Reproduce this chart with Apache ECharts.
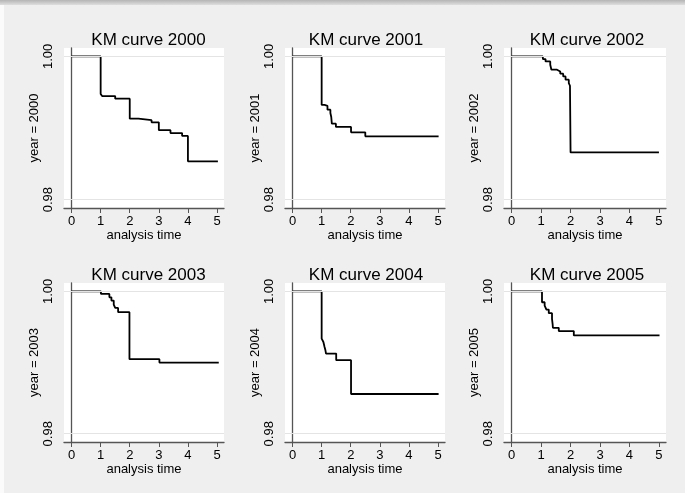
<!DOCTYPE html>
<html>
<head>
<meta charset="utf-8">
<script src="https://cdn.jsdelivr.net/npm/echarts@6/dist/echarts.min.js"></script>
<style>
  body { margin: 0; background: #efefef; }
  #main { position: absolute; left: 0; top: 0; width: 685px; height: 493px; }
  #topbar { position: absolute; left: 0; top: 0; width: 685px; height: 5px; background: linear-gradient(#b4b4b4, #dedede); z-index: 2; }
  #leftbar { position: absolute; left: 0; top: 5px; width: 4px; height: 488px; background: #fbfbfb; z-index: 2; }
</style>
</head>
<body>
<div id="main"></div>
<div id="topbar"></div>
<div id="leftbar"></div>
<script>
// KM curve data, one pair of arrays per year (time, survival)
const years = [2000, 2001, 2002, 2003, 2004, 2005]

const time2000 = [0, 1, 1.05, 1.5, 2, 2.3, 2.75, 3, 3.4, 3.8, 4, 5.03]
const surv2000 = [1, 0.99475, 0.99446, 0.9941, 0.9913, 0.9911, 0.9908, 0.9897, 0.9893, 0.9889, 0.98535, 0.98535]

const time2001 = [0, 1, 1.1, 1.2, 1.3, 1.33, 1.35, 1.49, 2.01, 2.5, 5.02]
const surv2001 = [1, 0.99322, 0.9931, 0.99256, 0.9921, 0.99154, 0.99061, 0.99015, 0.9894, 0.98884, 0.98884]

const time2002 = [0, 1.06, 1.15, 1.31, 1.35, 1.54, 1.65, 1.75, 1.83, 1.94, 1.98, 2.0, 5.0]
const surv2002 = [1, 0.99962, 0.9993, 0.99884, 0.99814, 0.9979, 0.99758, 0.9972, 0.99675, 0.99628, 0.9959, 0.9866, 0.9866]

const time2003 = [0, 1.01, 1.3, 1.37, 1.45, 1.5, 1.6, 1.99, 3.02, 5.06]
const surv2003 = [1, 0.99963, 0.99916, 0.9987, 0.99814, 0.99767, 0.99707, 0.99047, 0.99, 0.99]

const time2004 = [0, 1.0, 1.06, 1.1, 1.13, 1.15, 1.5, 2.01, 5.02]
const surv2004 = [1, 0.99335, 0.99288, 0.99219, 0.99172, 0.99126, 0.99033, 0.98558, 0.98558]

const time2005 = [0, 1.03, 1.12, 1.18, 1.26, 1.37, 1.39, 1.4, 1.6, 2.11, 5.02]
const surv2005 = [1, 0.99847, 0.998, 0.99744, 0.99693, 0.99614, 0.99544, 0.99488, 0.99442, 0.99381, 0.99381]

const xTicks = [0, 1, 2, 3, 4, 5]
const yTicks = [0.98, 1.00]

const times = [time2000, time2001, time2002, time2003, time2004, time2005]
const survs = [surv2000, surv2001, surv2002, surv2003, surv2004, surv2005]

// panel placement (pixels)
const colLeft = [64, 285, 504]
const colWidth = [160, 160, 162]
const rowTop = [48, 283]
const rowHeight = [160, 159]
const titleCenter = [143.5, 361, 582]
const titleTop = [27, 262]

const font = 'Liberation Sans, Arial, sans-serif'
const axisColor = '#555555'

let grids = [], xAxes = [], yAxes = [], series = [], titles = []

years.forEach((yr, i) => {
  const col = i % 3, row = Math.floor(i / 3)
  grids.push({
    left: colLeft[col], top: rowTop[row], width: colWidth[col], height: rowHeight[row],
    show: true, backgroundColor: '#ffffff', borderWidth: 0
  })
  titles.push({
    text: 'KM curve ' + yr,
    left: titleCenter[col], top: titleTop[row], textAlign: 'center',
    textStyle: {fontFamily: font, fontSize: 17, fontWeight: 'normal', color: '#000'}
  })
  xAxes.push({
    gridIndex: i, type: 'value', min: -0.26, max: 5.24,
    name: 'analysis time', nameLocation: 'middle', nameGap: 15,
    nameTextStyle: {fontFamily: font, fontSize: 13, color: '#000'},
    axisLine: {show: true, onZero: false, lineStyle: {color: axisColor, width: 1.3}},
    axisTick: {show: true, length: 5, customValues: xTicks, lineStyle: {color: axisColor}},
    axisLabel: {customValues: xTicks, margin: 7, fontFamily: font, fontSize: 13, color: '#000'},
    splitLine: {show: false}
  })
  yAxes.push({
    gridIndex: i, type: 'value', min: 0.97884, max: 1.00117,
    name: 'year = ' + yr, nameLocation: 'middle', nameGap: 21,
    nameTextStyle: {fontFamily: font, fontSize: 13, color: '#000'},
    axisLine: {show: true, lineStyle: {color: axisColor, width: 1.3}},
    axisTick: {show: true, length: 5, customValues: yTicks, lineStyle: {color: axisColor}},
    axisLabel: {customValues: yTicks, rotate: 90, margin: 9, fontFamily: font, fontSize: 13, color: '#000',
      formatter: v => v.toFixed(2)},
    splitLine: {show: false}
  })
  series.push({
    type: 'line', xAxisIndex: i, yAxisIndex: i, step: 'end',
    data: times[i].map((t, k) => [t, survs[i][k]]),
    showSymbol: false, silent: true,
    lineStyle: {color: '#000', width: 1.8},
    markLine: {
      silent: true, symbol: 'none', label: {show: false},
      lineStyle: {color: '#e4e4e4', width: 1, type: 'solid'},
      data: yTicks.map(v => ({yAxis: v}))
    },
    z: 3
  })
})

const myChart = echarts.init(document.getElementById('main'), null, {renderer: 'canvas'})
myChart.setOption({
  backgroundColor: '#efefef',
  animation: false,
  title: titles,
  grid: grids,
  xAxis: xAxes,
  yAxis: yAxes,
  series: series
})
</script>
</body>
</html>
